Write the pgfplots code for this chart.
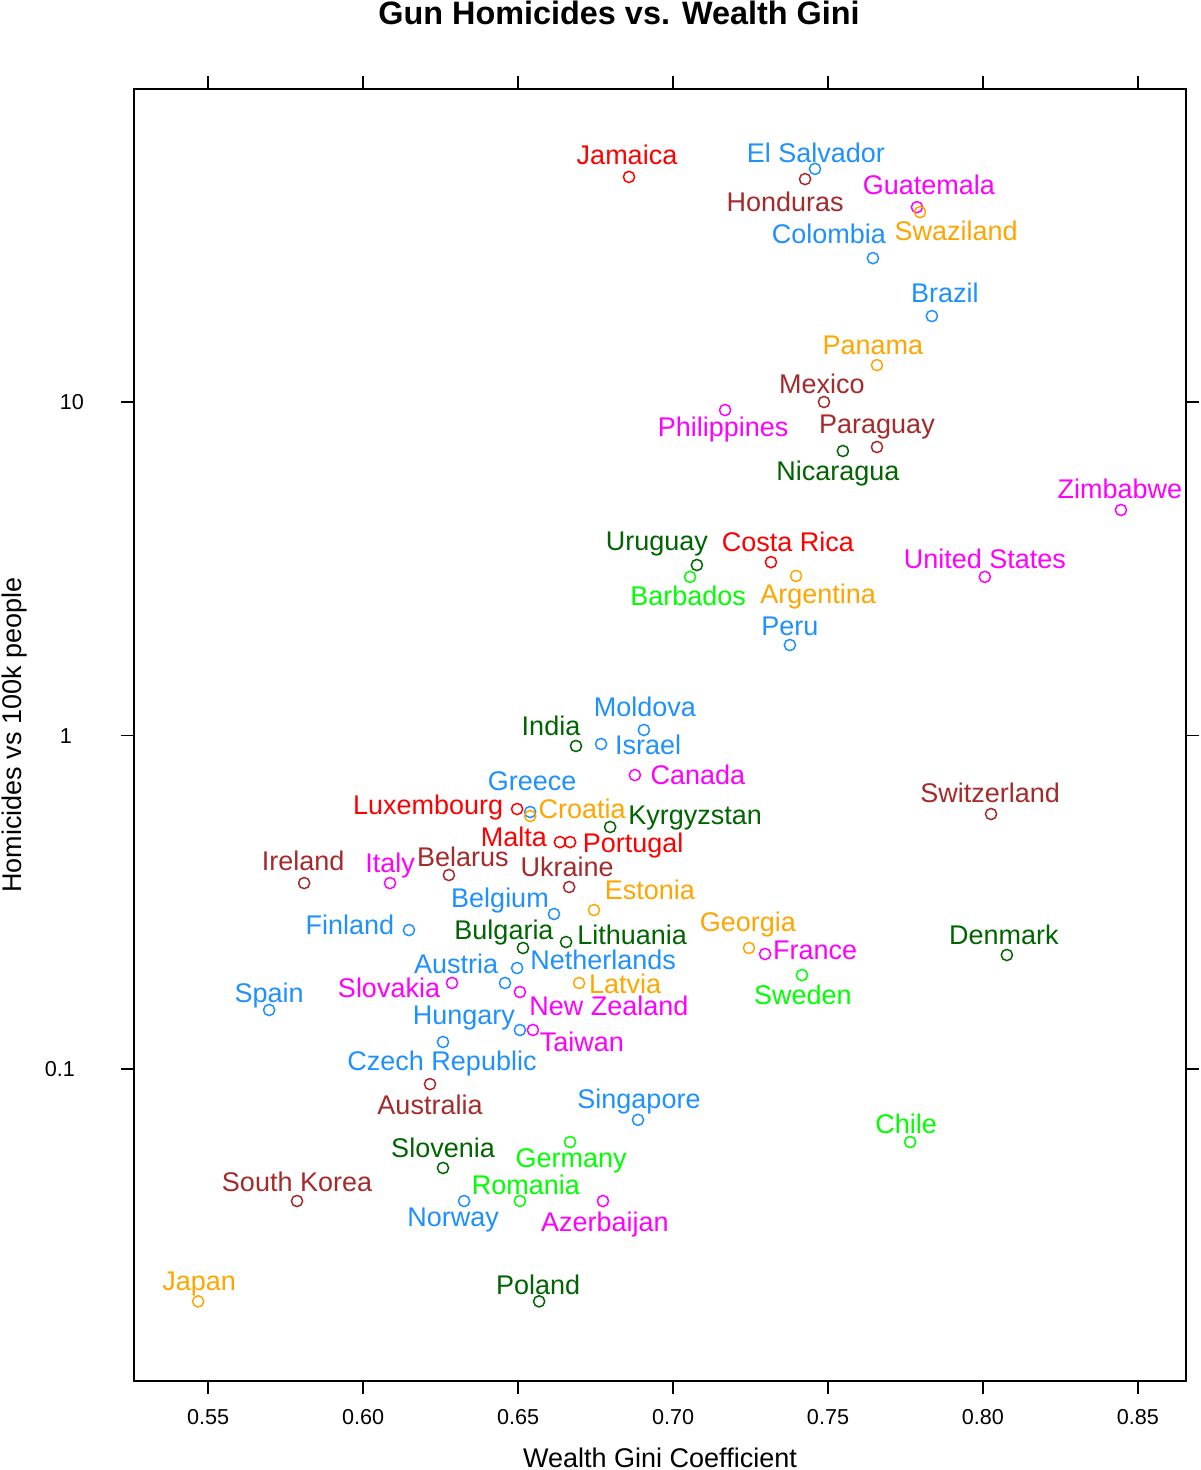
\documentclass[border=0pt]{standalone}
\usepackage{fontspec}
\setmainfont{Liberation Sans}
\usepackage{pgfplots}
\usepackage{pgfplotstable}
\pgfplotsset{compat=1.18}

\definecolor{cred}{HTML}{FF0000}
\definecolor{cblue}{HTML}{1E90FF}
\definecolor{cbrown}{HTML}{A52A2A}
\definecolor{cmagenta}{HTML}{FF00FF}
\definecolor{corange}{HTML}{FFA500}
\definecolor{cdkgreen}{HTML}{006400}
\definecolor{cgreen}{HTML}{00FF00}

\newcommand{\lblfont}{\fontsize{13.5}{16}\selectfont}
\newcommand{\tickfont}{\fontsize{10.8}{13}\selectfont}

% x = wealth gini, y = gun homicides per 100k, dx/dy = label offset (pt)
\pgfplotstableread[col sep=comma]{
label,x,y,dx,dy
Jamaica,0.6858,47.3,-1,11
Costa Rica,0.7316,3.31,8.5,10
Luxembourg,0.6497,0.602,-44.5,2
Malta,0.6635,0.479,-23,2.5
Portugal,0.6668,0.479,31.5,-0.5
}\tabred

\pgfplotstableread[col sep=comma]{
label,x,y,dx,dy
El Salvador,0.7458,50.0,0.5,8
Colombia,0.7645,27.0,-22,12
Brazil,0.7835,18.1,6.5,11.5
Peru,0.7377,1.868,0,9.5
Moldova,0.6906,1.039,0.5,11.5
Israel,0.6768,0.943,23.5,-0.5
Greece,0.6539,0.5897,1,15.5
Belgium,0.6616,0.2916,-27,8
Finland,0.6148,0.261,-29.5,2.5
Netherlands,0.6497,0.2008,43,4
Austria,0.6458,0.1811,-24.5,9.5
Spain,0.5697,0.1503,0,8.5
Hungary,0.6506,0.1309,-28,7.5
Czech Republic,0.6258,0.1205,-0.5,-9.5
Singapore,0.6887,0.0704,0.5,10.5
Norway,0.6326,0.0402,-5.5,-8
}\tabblue

\pgfplotstableread[col sep=comma]{
label,x,y,dx,dy
Honduras,0.7426,46.6,-10,-11.5
Mexico,0.7487,10.0,-1,9
Paraguay,0.7658,7.33,0,11.5
Switzerland,0.8026,0.5815,-0.5,10.5
Ireland,0.5810,0.361,-0.5,11
Belarus,0.6277,0.3817,7,9
Ukraine,0.6665,0.3513,-1,10
Australia,0.6216,0.0901,0,-10.5
South Korea,0.5787,0.0402,0,9.5
}\tabbrown

\pgfplotstableread[col sep=comma]{
label,x,y,dx,dy
Guatemala,0.7787,38.4,6,11
Philippines,0.7168,9.46,-1,-8.5
Zimbabwe,0.8445,4.745,-0.5,10.5
United States,0.8006,2.99,0,9
Canada,0.6877,0.761,31.5,0
Italy,0.6087,0.361,0,10
France,0.7297,0.2212,25,2
Slovakia,0.6287,0.1811,-31.5,-2.5
New Zealand,0.6506,0.1702,44.5,-7
Taiwan,0.6548,0.1309,24.5,-6
Azerbaijan,0.6774,0.0402,1,-10.5
}\tabmagenta

\pgfplotstableread[col sep=comma]{
label,x,y,dx,dy
Swaziland,0.7797,37.1,18,-9.5
Panama,0.7658,12.9,-2,10
Argentina,0.7397,3.01,11,-9
Croatia,0.6539,0.5735,26,3.5
Estonia,0.6745,0.2997,28,10
Georgia,0.7245,0.2306,-0.5,13
Latvia,0.6697,0.1811,23,-0.5
Japan,0.5468,0.0201,0.5,10.5
}\taborange

\pgfplotstableread[col sep=comma]{
label,x,y,dx,dy
Nicaragua,0.7548,7.13,-2.5,-10
Uruguay,0.7077,3.245,-20,12
India,0.6687,0.930,-12.5,10
Kyrgyzstan,0.6797,0.5317,42.5,6
Bulgaria,0.6516,0.2306,-9.5,9
Lithuania,0.6655,0.2403,33,3.5
Denmark,0.8077,0.2197,-1.5,10
Slovenia,0.6258,0.0505,0,10
Poland,0.6568,0.0201,-0.5,8.5
}\tabdkgreen

\pgfplotstableread[col sep=comma]{
label,x,y,dx,dy
Barbados,0.7055,2.99,-1,-9.5
Sweden,0.7416,0.1913,0.5,-10
Chile,0.7765,0.0604,-2,9
Germany,0.6668,0.0604,0.5,-8
Romania,0.6506,0.0402,3,8
}\tabgreen

\pgfplotsset{
  country/.style={
    only marks, mark=o, mark size=2.8pt, line width=0.75pt, color=#1,
    point meta=explicit symbolic,
    visualization depends on={\thisrow{dx}\as\dx},
    visualization depends on={\thisrow{dy}\as\dy},
    nodes near coords,
    every node near coord/.style={anchor=center, xshift=\dx pt, yshift=\dy pt,
      font=\lblfont, text height=9.7pt, text depth=0pt, inner sep=0pt, color=#1},
  },
}

\begin{document}
\begin{tikzpicture}
\begin{axis}[
  scale only axis,
  width=526pt, height=646pt,
  xmin=0.5261, xmax=0.8655,
  ymode=log, ymin=0.0116, ymax=86.8,
  clip=false,
  axis line style={line width=0.7pt},
  tick style={line width=0.7pt, black},
  tick align=outside,
  major tick length=6.5pt,
  yminorticks=false,
  xtick={0.55,0.6,0.65,0.7,0.75,0.8,0.85},
  xticklabels={0.55,0.60,0.65,0.70,0.75,0.80,0.85},
  ytick={0.1,1,10},
  yticklabels={\kern-6pt 0.1,1,\kern6pt 10},
  xticklabel style={font=\tickfont, anchor=center, inner sep=0pt,
    text height=7.7pt, text depth=0pt, yshift=-11.5pt},
  yticklabel style={font=\tickfont, anchor=center, inner sep=0pt,
    text height=7.7pt, text depth=0pt, xshift=-27.5pt},
  xlabel={Wealth Gini Coefficient},
  xlabel style={at={(axis description cs:0.5,-0.0596)}, anchor=center,
    font=\lblfont, text height=9.7pt, text depth=0pt, inner sep=0pt},
  ylabel={Homicides vs 100k people},
  ylabel style={at={(axis description cs:-0.1166,0.5)}, anchor=center,
    font=\lblfont, text height=9.7pt, text depth=0pt, inner sep=0pt},
]
\addplot[country=cred] table[x=x, y=y, meta=label] {\tabred};
\addplot[country=cblue] table[x=x, y=y, meta=label] {\tabblue};
\addplot[country=cbrown] table[x=x, y=y, meta=label] {\tabbrown};
\addplot[country=cmagenta] table[x=x, y=y, meta=label] {\tabmagenta};
\addplot[country=corange] table[x=x, y=y, meta=label] {\taborange};
\addplot[country=cdkgreen] table[x=x, y=y, meta=label] {\tabdkgreen};
\addplot[country=cgreen] table[x=x, y=y, meta=label] {\tabgreen};
\end{axis}
\node[font=\bfseries\fontsize{16.2}{19}\selectfont, text height=11.6pt,
  text depth=0pt, inner sep=0pt]
  at ([xshift=242.5pt, yshift=38pt]current axis.north west)
  {Gun Homicides vs. Wealth Gini};
\pgfresetboundingbox
\path[use as bounding box]
  ([xshift=-67pt, yshift=-44.5pt]current axis.south west)
  rectangle ([xshift=7pt, yshift=44.5pt]current axis.north east);
\end{tikzpicture}
\end{document}
